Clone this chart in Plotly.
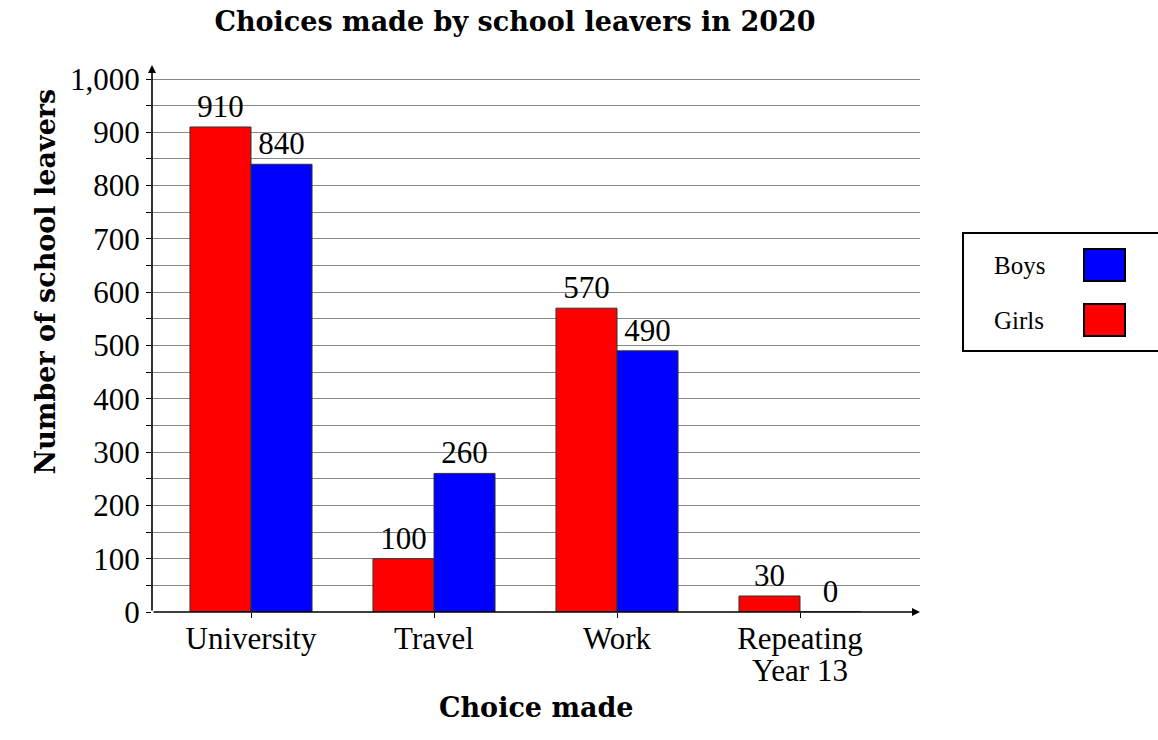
import plotly.graph_objects as go

categories = ["University", "Travel", "Work", "Repeating<br>Year 13"]
girls = [910, 100, 570, 30]
boys = [840, 260, 490, 0]
series_names = ["Girls", "Boys"]
y_ticks = list(range(0, 1001, 100))

W, H = 1158, 740
L, R, T, B = 152, 920, 65, 612
FONT = "Liberation Serif"
FONT2 = "Times New Roman"
BFONT = "DejaVu Serif"

def px(xp):
    return (xp - L) / (R - L)

def py(yp):
    return (B - yp) / (B - T)

ymax = 1000 * (B - T) / (B - 79)
xmin = (L - 251) / 183
xmax = (R - 251) / 183

lab_font = dict(family=FONT, size=31, color="black")

fig = go.Figure()
fig.add_trace(go.Bar(name=series_names[0], x=categories, y=girls,
                     marker=dict(color="#ff0000", line=dict(color="#333333", width=1)),
                     text=girls, textposition="outside", cliponaxis=False,
                     textfont=lab_font, showlegend=False))
fig.add_trace(go.Bar(name=series_names[1], x=categories, y=boys,
                     marker=dict(color="#0000ff", line=dict(color="#333333", width=1)),
                     text=boys, textposition="outside", cliponaxis=False,
                     textfont=lab_font, showlegend=False))

first_lines = [c.split("<br>")[0] for c in categories]

fig.update_layout(
    width=W, height=H,
    margin=dict(l=L, r=W - R, t=T, b=H - B),
    paper_bgcolor="white", plot_bgcolor="white",
    barmode="group", bargap=0.333, bargroupgap=0,
    font=dict(family=FONT, color="black"),
    title=dict(text="<b>Choices made by school leavers in 2020</b>",
               x=515 / W, xanchor="center", xref="container",
               y=1 - 22 / H, yanchor="middle", yref="container",
               font=dict(family=BFONT, size=27, color="black")),
    xaxis=dict(range=[xmin, xmax], showgrid=False, showline=False,
               tickvals=categories, ticktext=first_lines,
               ticks="outside", ticklen=5, tickcolor="black", ticklabelstandoff=-6,
               tickfont=dict(family=FONT, size=31, color="black"), zeroline=False),
    yaxis=dict(range=[0, ymax], tickvals=y_ticks, tickformat=",",
               showgrid=True, gridcolor="#888888", gridwidth=1,
               minor=dict(dtick=50, tick0=0, showgrid=True, gridcolor="#888888",
                          ticks="outside", ticklen=5, tickcolor="black"),
               ticks="outside", ticklen=5, tickcolor="black",
               tickfont=dict(family=FONT, size=31, color="black"),
               showline=False, zeroline=False),
)

# second lines of multi-line category labels
for c in categories:
    parts = c.split("<br>")
    if len(parts) > 1:
        fig.add_annotation(text=parts[1], x=c, y=py(670), xref="x", yref="paper",
                           showarrow=False, yanchor="middle",
                           font=dict(family=FONT, size=31, color="black"))

# axis arrows
fig.add_annotation(x=xmax, y=0, ax=xmin, ay=0, xref="x", yref="y", axref="x", ayref="y",
                   showarrow=True, arrowhead=2, arrowsize=1, arrowwidth=1.6, arrowcolor="black", text="")
fig.add_annotation(x=xmin, y=ymax, ax=xmin, ay=0, xref="x", yref="y", axref="x", ayref="y",
                   showarrow=True, arrowhead=2, arrowsize=1, arrowwidth=1.6, arrowcolor="black", text="")

# axis titles
fig.add_annotation(text="<b>Number of school leavers</b>", x=px(27), y=py(282),
                   xref="paper", yref="paper", showarrow=False, textangle=-90,
                   font=dict(family=BFONT, size=27, color="black"))
fig.add_annotation(text="<b>Choice made</b>", x=px(536), y=py(725),
                   xref="paper", yref="paper", showarrow=False,
                   font=dict(family=BFONT, size=27, color="black"))

# manual legend (swatch on the right as in reference)
fig.add_shape(type="rect", xref="paper", yref="paper", x0=px(963), x1=px(1162),
              y0=py(351), y1=py(233), line=dict(color="black", width=2), fillcolor="white")
legend_items = [(series_names[1], "#0000ff", 265), (series_names[0], "#ff0000", 320)]
for name, col, yc in legend_items:
    fig.add_annotation(text=name, x=px(992), y=py(yc), xref="paper", yref="paper",
                       xanchor="left", yanchor="middle", showarrow=False,
                       font=dict(family=FONT2, size=25, color="black"))
    fig.add_shape(type="rect", xref="paper", yref="paper", x0=px(1084), x1=px(1125),
                  y0=py(yc + 16), y1=py(yc - 16), line=dict(color="black", width=2), fillcolor=col)

fig.write_html("out.html")
